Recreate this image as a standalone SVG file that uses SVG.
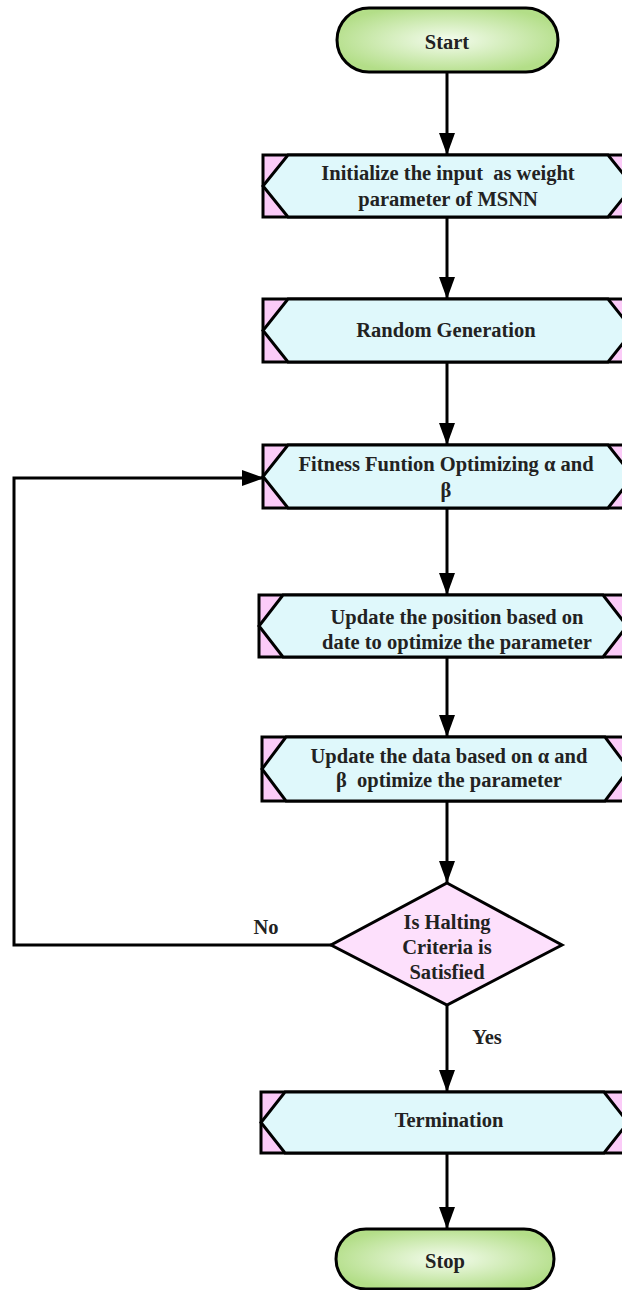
<svg xmlns="http://www.w3.org/2000/svg" width="622" height="1290" viewBox="0 0 622 1290" xml:space="preserve">
<style>
  .t { font-family: "Liberation Serif", "Times New Roman", serif; font-weight: bold; font-size: 20.5px; fill: #222; text-anchor: middle; white-space: pre; }
  .pink { fill: #fbcbf8; stroke: #000; stroke-width: 3; }
  .hex { fill: #dff8fb; stroke: #000; stroke-width: 3; stroke-linejoin: miter; }
  .term { fill: url(#g); stroke: #000; stroke-width: 3; }
  .dia { fill: #fde0fc; stroke: #000; stroke-width: 3; }
  .c { fill: none; stroke: #000; stroke-width: 3; }
</style>
<defs>
  <radialGradient id="g" cx="50%" cy="50%" r="55%">
    <stop offset="0" stop-color="#f4fcee"/>
    <stop offset="1" stop-color="#b3de88"/>
  </radialGradient>
  <marker id="ah" markerUnits="userSpaceOnUse" markerWidth="22" markerHeight="16" refX="22" refY="8" orient="auto">
    <path d="M0,0 L22,8 L0,16 z" fill="#000"/>
  </marker>
</defs>
<rect width="622" height="1290" fill="#fff"/>
<g id="connectors">
  <line class="c" x1="447" y1="72" x2="447" y2="155" marker-end="url(#ah)"/>
  <line class="c" x1="447" y1="217" x2="447" y2="299" marker-end="url(#ah)"/>
  <line class="c" x1="447" y1="362" x2="447" y2="445" marker-end="url(#ah)"/>
  <line class="c" x1="447" y1="508" x2="447" y2="595" marker-end="url(#ah)"/>
  <line class="c" x1="447" y1="657" x2="447" y2="737" marker-end="url(#ah)"/>
  <line class="c" x1="447" y1="801" x2="447" y2="883" marker-end="url(#ah)"/>
  <line class="c" x1="447" y1="1005" x2="447" y2="1092" marker-end="url(#ah)"/>
  <line class="c" x1="447" y1="1153" x2="447" y2="1229" marker-end="url(#ah)"/>
  <polyline class="c" points="331,945 14,945 14,478 264,478" marker-end="url(#ah)"/>
  <text class="t" x="266" y="934">No</text>
  <text class="t" x="487" y="1044">Yes</text>
</g>
<g id="start">
  <rect class="term" x="337" y="8" width="221" height="64" rx="32" ry="32"/>
  <text class="t" x="447" y="49">Start</text>
</g>
<g id="init">
  <rect class="pink" x="263" y="155" width="370" height="62"/>
  <polygon class="hex" points="288,155 608,155 633,186 608,217 288,217 263,186"/>
  <text class="t" x="448" y="180">Initialize the input  as weight</text>
  <text class="t" x="448" y="206">parameter of MSNN</text>
</g>
<g id="random">
  <rect class="pink" x="263" y="299" width="370" height="63"/>
  <polygon class="hex" points="288,299 608,299 633,330.5 608,362 288,362 263,330.5"/>
  <text class="t" x="446" y="337">Random Generation</text>
</g>
<g id="fitness">
  <rect class="pink" x="263" y="445" width="370" height="63"/>
  <polygon class="hex" points="288,445 608,445 633,476.5 608,508 288,508 263,476.5"/>
  <text class="t" x="446" y="471">Fitness Funtion Optimizing α and</text>
  <text class="t" x="446" y="497">β</text>
</g>
<g id="update-position">
  <rect class="pink" x="259" y="595" width="368" height="62"/>
  <polygon class="hex" points="283,595 603,595 627,626 603,657 283,657 259,626"/>
  <text class="t" x="457" y="624">Update the position based on</text>
  <text class="t" x="457" y="649">date to optimize the parameter</text>
</g>
<g id="update-data">
  <rect class="pink" x="262" y="737" width="367" height="64"/>
  <polygon class="hex" points="286,737 605,737 629,769 605,801 286,801 262,769"/>
  <text class="t" x="449" y="763">Update the data based on α and</text>
  <text class="t" x="449" y="787">β  optimize the parameter</text>
</g>
<g id="halting">
  <polygon class="dia" points="447,883 562,945 447,1005 331,945"/>
  <text class="t" x="447" y="929">Is Halting</text>
  <text class="t" x="447" y="954">Criteria is</text>
  <text class="t" x="447" y="979">Satisfied</text>
</g>
<g id="termination">
  <rect class="pink" x="261" y="1092" width="367" height="61"/>
  <polygon class="hex" points="285,1092 604,1092 628,1122.5 604,1153 285,1153 261,1122.5"/>
  <text class="t" x="449" y="1127">Termination</text>
</g>
<g id="stop">
  <rect class="term" x="336" y="1229" width="218" height="60" rx="30" ry="30"/>
  <text class="t" x="445" y="1268">Stop</text>
</g>
</svg>
